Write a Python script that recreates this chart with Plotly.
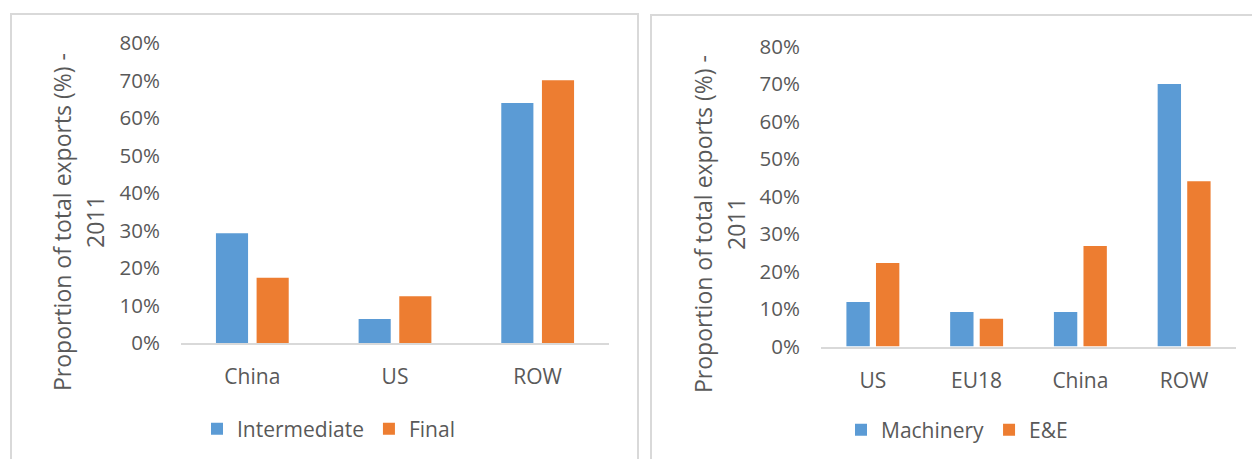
import plotly.graph_objects as go

W, H = 1252, 459

# ---- data ----
left_categories = ["China", "US", "ROW"]
left_intermediate = [0.293, 0.064, 0.640]
left_final = [0.174, 0.125, 0.701]

right_categories = ["US", "EU18", "China", "ROW"]
right_machinery = [0.119, 0.092, 0.092, 0.700]
right_ee = [0.223, 0.074, 0.268, 0.441]

y_ticks = [0, 0.1, 0.2, 0.3, 0.4, 0.5, 0.6, 0.7, 0.8]
y_title_line1 = "Proportion of total exports (%) -"
y_title_line2 = "2011"

BLUE = "#5B9BD5"
ORANGE = "#ED7D31"
TEXT = "#595959"
LINE = "#D9D9D9"
FONT = "Open Sans"

def px_x(p):
    return p / W

def px_y(p):
    return 1 - p / H

fig = go.Figure()
fig.add_trace(go.Bar(x=left_categories, y=left_intermediate, name="Intermediate",
                     marker=dict(color=BLUE, line=dict(width=0)),
                     xaxis="x", yaxis="y", legend="legend"))
fig.add_trace(go.Bar(x=left_categories, y=left_final, name="Final",
                     marker=dict(color=ORANGE, line=dict(width=0)),
                     xaxis="x", yaxis="y", legend="legend"))
fig.add_trace(go.Bar(x=right_categories, y=right_machinery, name="Machinery",
                     marker=dict(color=BLUE, line=dict(width=0)),
                     xaxis="x2", yaxis="y2", legend="legend2"))
fig.add_trace(go.Bar(x=right_categories, y=right_ee, name="E&E",
                     marker=dict(color=ORANGE, line=dict(width=0)),
                     xaxis="x2", yaxis="y2", legend="legend2"))

xcommon = dict(showline=True, linecolor=LINE, linewidth=2, showgrid=False,
               zeroline=False, ticks="", tickfont=dict(size=21, color=TEXT, family=FONT),
               ticklabelstandoff=14, fixedrange=True, automargin=False)
ycommon = dict(range=[0, 0.8], tickvals=y_ticks, tickformat=".0%", showline=False,
               showgrid=False, zeroline=False, ticks="",
               tickfont=dict(size=20.5, color=TEXT, family=FONT),
               ticklabelstandoff=20, fixedrange=True, automargin=False)

legend_common = dict(orientation="h", xanchor="left", yanchor="middle",
                     xref="container", yref="container",
                     font=dict(size=21, color=TEXT, family=FONT),
                     bgcolor="rgba(0,0,0,0)", borderwidth=0,
                     itemclick=False, itemdoubleclick=False)

fig.update_layout(
    width=W, height=H, autosize=False,
    margin=dict(l=0, r=0, t=0, b=0, autoexpand=False),
    paper_bgcolor="white", plot_bgcolor="white",
    font=dict(family=FONT, color=TEXT),
    barmode="group", bargap=0.43, bargroupgap=0.21,
    showlegend=True,
    xaxis=dict(domain=[px_x(181), px_x(609)], anchor="y", **xcommon),
    yaxis=dict(domain=[px_y(343), px_y(43)], anchor="x", **ycommon),
    xaxis2=dict(domain=[px_x(821), px_x(1236)], anchor="y2", **xcommon),
    yaxis2=dict(domain=[px_y(346.5), px_y(46.5)], anchor="x2", **ycommon),
    legend=dict(x=px_x(197), y=px_y(429), **legend_common),
    legend2=dict(x=px_x(841), y=px_y(430), **legend_common),
)

# panel borders
fig.add_shape(type="rect", xref="paper", yref="paper",
              x0=px_x(11), x1=px_x(638), y0=px_y(470), y1=px_y(14),
              line=dict(color=LINE, width=2), fillcolor="rgba(0,0,0,0)", layer="below")
fig.add_shape(type="rect", xref="paper", yref="paper",
              x0=px_x(651), x1=px_x(1270), y0=px_y(470), y1=px_y(15),
              line=dict(color=LINE, width=2), fillcolor="rgba(0,0,0,0)", layer="below")

# y-axis titles (two lines each)
for xc1, xc2, yc in [(62, 95, 222), (703, 736, 224)]:
    fig.add_annotation(text=y_title_line1, xref="paper", yref="paper",
                       x=px_x(xc1), y=px_y(yc), xanchor="center", yanchor="middle",
                       textangle=-90, showarrow=False,
                       font=dict(size=23, color=TEXT, family=FONT))
    fig.add_annotation(text=y_title_line2, xref="paper", yref="paper",
                       x=px_x(xc2), y=px_y(yc), xanchor="center", yanchor="middle",
                       textangle=-90, showarrow=False,
                       font=dict(size=23, color=TEXT, family=FONT))

fig.write_html("out.html", config={"displayModeBar": False})
